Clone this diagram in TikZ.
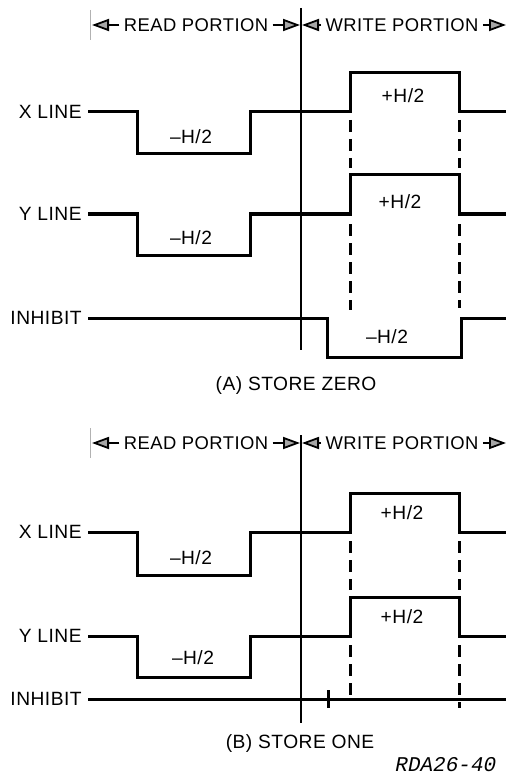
\documentclass[tikz,border=0pt]{standalone}
\usepackage{fontspec}
\setmainfont{Liberation Sans}[LetterSpace=2.5]
\newfontfamily\reffont{Liberation Mono}
\usetikzlibrary{arrows.meta}

\begin{document}
\begin{tikzpicture}[x=0.5pt, y=-0.5pt,
    lbl/.style={anchor=east, inner sep=3pt, font=\fontsize{9.6}{11}\selectfont},
    amp/.style={inner sep=1pt, font=\fontsize{9.6}{11}\selectfont},
    hdrtxt/.style={inner sep=2pt, font=\fontsize{9.2}{11}\selectfont},
    sig/.style={line width=1.5pt, line join=miter},
    gate/.style={line width=1.5pt, dash pattern=on 6pt off 3.5pt},
    divd/.style={line width=1.1pt},
    hdr/.style={line width=0.9pt,
                -{Triangle[length=8.5pt, width=6pt, fill=gray!70]}}
]
    \useasboundingbox (0,0) rectangle (506,775);

    % (A) emmagatzemar zero
    \node[hdrtxt] (readA)  at (196,25) {READ PORTION};
    \node[hdrtxt] (writeA) at (402,25) {WRITE PORTION};
    \coordinate (lA) at (92,25);
    \coordinate (mA) at (300,25);
    \coordinate (nA) at (302,25);
    \coordinate (rA) at (506,25);
    \draw[hdr] (readA.west)  -- (lA);
    \draw[hdr] (readA.east)  -- (mA);
    \draw[hdr] (writeA.west) -- (nA);
    \draw[hdr] (writeA.east) -- (rA);
    \draw[gray!60, line width=0.4pt] (90,10) -- (90,40);
    \coordinate (dA1) at (301,8);
    \coordinate (dA2) at (301,350);
    \draw[divd] (dA1) -- (dA2);

    \node[lbl] (xA) at (88,112) {X LINE};
    \draw[sig] (xA.east) -- (137,112) -- (137,154) -- (250,154) -- (250,112)
               -- (350,112) -- (350,73) -- (459,73) -- (459,112) -- (506,112);
    \node[amp] (xmA) at (191,137) {\textendash H/2};
    \node[amp] (xpA) at (403,96)  {+H/2};
    \draw[gate] (350,120) -- (350,168);
    \draw[gate] (459,120) -- (459,168);

    \node[lbl] (yA) at (88,214) {Y LINE};
    \draw[sig] (yA.east) -- (137,214) -- (137,255) -- (250,255) -- (250,214)
               -- (350,214) -- (350,175) -- (459,175) -- (459,214) -- (506,214);
    \node[amp] (ymA) at (191,238) {\textendash H/2};
    \node[amp] (ypA) at (400,202) {+H/2};
    \draw[gate] (350,224) -- (350,310);
    \draw[gate] (459,224) -- (459,308);

    \node[lbl] (inA) at (88,318) {INHIBIT};
    \draw[sig] (inA.east) -- (327,318) -- (327,357) -- (461,357) -- (461,318)
               -- (506,318);
    \node[amp] (imA) at (387,337) {\textendash H/2};

    \node[amp] (capA) at (296,386) {(A) STORE ZERO};

    % (B) emmagatzemar u
    \node[hdrtxt] (readB)  at (196,443) {READ PORTION};
    \node[hdrtxt] (writeB) at (402,443) {WRITE PORTION};
    \coordinate (lB) at (92,443);
    \coordinate (mB) at (300,443);
    \coordinate (nB) at (302,443);
    \coordinate (rB) at (506,443);
    \draw[hdr] (readB.west)  -- (lB);
    \draw[hdr] (readB.east)  -- (mB);
    \draw[hdr] (writeB.west) -- (nB);
    \draw[hdr] (writeB.east) -- (rB);
    \draw[gray!60, line width=0.4pt] (90,428) -- (90,458);
    \coordinate (dB1) at (301,435);
    \coordinate (dB2) at (301,723);
    \draw[divd] (dB1) -- (dB2);

    \node[lbl] (xB) at (88,532) {X LINE};
    \draw[sig] (xB.east) -- (137,532) -- (137,575) -- (250,575) -- (250,532)
               -- (350,532) -- (350,493) -- (459,493) -- (459,532) -- (506,532);
    \node[amp] (xmB) at (191,558) {\textendash H/2};
    \node[amp] (xpB) at (402,513) {+H/2};
    \draw[gate] (350,541) -- (350,590);
    \draw[gate] (459,541) -- (459,590);

    \node[lbl] (yB) at (88,636) {Y LINE};
    \draw[sig] (yB.east) -- (137,636) -- (137,677) -- (250,677) -- (250,636)
               -- (350,636) -- (350,597) -- (459,597) -- (459,636) -- (506,636);
    \node[amp] (ymB) at (193,658) {\textendash H/2};
    \node[amp] (ypB) at (402,617) {+H/2};
    \draw[gate] (350,645) -- (350,695);
    \draw[gate] (459,645) -- (459,708);

    \node[lbl] (inB) at (88,699) {INHIBIT};
    \coordinate (inBend) at (506,699);
    \draw[sig] (inB.east) -- (inBend);
    \draw[sig] (328,690) -- (328,708);

    \node[amp] (capB) at (300,744) {(B) STORE ONE};
    \node[anchor=west, inner sep=0pt, font=\reffont\itshape\fontsize{10.5}{12}\selectfont]
        (ref) at (395,765) {RDA26-40};
\end{tikzpicture}
\end{document}
